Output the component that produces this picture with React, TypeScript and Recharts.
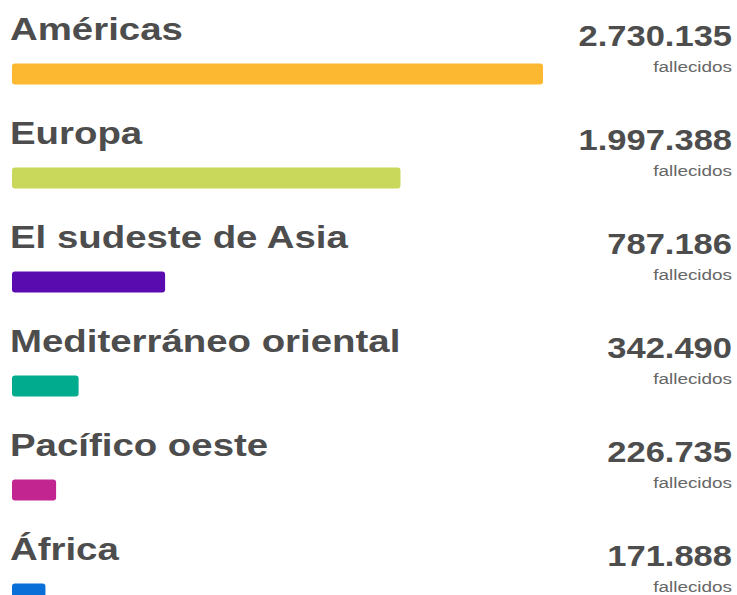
import { Bar, BarChart, Cell, LabelList, XAxis, YAxis } from "recharts";

const regions = [
  "Américas",
  "Europa",
  "El sudeste de Asia",
  "Mediterráneo oriental",
  "Pacífico oeste",
  "África",
];
const deaths = [2730135, 1997388, 787186, 342490, 226735, 171888];
const colors = ["#fcb830", "#c9d85b", "#5a0bb0", "#00ab8e", "#c2258f", "#0a6fd6"];
const unitLabel = "fallecidos";

const data = regions.map((name, i) => ({ name, value: deaths[i] }));

const FONT = '"Liberation Sans", Arial, Helvetica, sans-serif';

// puntos como separador de miles
const fmt = (n: number) => String(n).replace(/\B(?=(\d{3})+(?!\d))/g, ".");

const NameLabel = (props: any) => {
  const { y, value } = props;
  return (
    <text
      transform={`translate(10, ${y - 23.5}) scale(1.2, 1)`}
      fontFamily={FONT}
      fontSize={32}
      fontWeight="bold"
      fill="#4d4d4d"
    >
      {value}
    </text>
  );
};

const ValueLabel = (props: any) => {
  const { y, value } = props;
  return (
    <g>
      <text
        transform={`translate(732, ${y - 18}) scale(1.19, 1)`}
        textAnchor="end"
        fontFamily={FONT}
        fontSize={29}
        fontWeight="bold"
        fill="#4d4d4d"
      >
        {fmt(value)}
      </text>
      <text
        transform={`translate(732, ${y + 8.5}) scale(1.22, 1)`}
        textAnchor="end"
        fontFamily={FONT}
        fontSize={15.5}
        fill="#666666"
      >
        {unitLabel}
      </text>
    </g>
  );
};

export default function App() {
  return (
    <div
      style={{
        position: "absolute",
        left: 0,
        top: 0,
        width: 737,
        height: 595,
        overflow: "hidden",
        background: "#ffffff",
      }}
    >
      <BarChart
        width={737}
        height={645.5}
        data={data}
        layout="vertical"
        margin={{ top: 21.5, right: 194, left: 12, bottom: 0 }}
      >
        <XAxis type="number" domain={[0, deaths[0]]} hide />
        <YAxis type="category" dataKey="name" hide />
        <Bar dataKey="value" barSize={21} radius={3} isAnimationActive={false}>
          {data.map((d, i) => (
            <Cell key={d.name} fill={colors[i]} />
          ))}
          <LabelList dataKey="name" content={NameLabel} />
          <LabelList dataKey="value" content={ValueLabel} />
        </Bar>
      </BarChart>
    </div>
  );
}
